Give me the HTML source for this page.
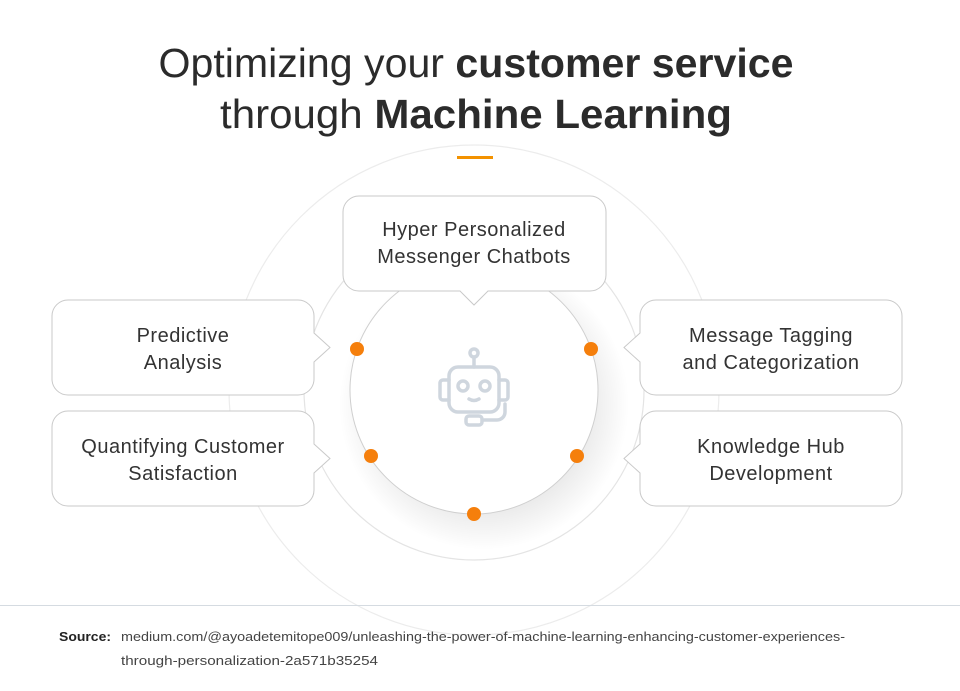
<!DOCTYPE html>
<html><head><meta charset="utf-8"><style>
body{margin:0;background:#fff;}
svg{display:block;font-family:"Liberation Sans",sans-serif;}
</style></head><body>
<svg width="960" height="691" viewBox="0 0 960 691" xmlns="http://www.w3.org/2000/svg">
<defs>
<radialGradient id="sh" cx="0.5" cy="0.5" r="0.5">
<stop offset="0.7" stop-color="#000" stop-opacity="0.09"/>
<stop offset="1" stop-color="#000" stop-opacity="0"/>
</radialGradient>
</defs>
<text x="476" y="77" text-anchor="middle" font-size="41" fill="#2b2b2b" textLength="635" lengthAdjust="spacingAndGlyphs">Optimizing your <tspan font-weight="bold">customer service</tspan></text>
<text x="476" y="128" text-anchor="middle" font-size="41" fill="#2b2b2b" textLength="512" lengthAdjust="spacingAndGlyphs">through <tspan font-weight="bold">Machine Learning</tspan></text>
<rect x="457" y="156" width="36" height="3" fill="#f39200"/>
<circle cx="474" cy="390" r="245" fill="none" stroke="#ececec" stroke-width="1.2"/>
<circle cx="474" cy="390" r="170" fill="none" stroke="#e4e4e4" stroke-width="1.2"/>
<circle cx="484" cy="405" r="145" fill="url(#sh)"/>
<circle cx="474" cy="390" r="124" fill="#fff" stroke="#cfcfcf" stroke-width="1"/>
<g fill="none" stroke="#cfd6de" stroke-width="3.5" stroke-linecap="round" stroke-linejoin="round">
<circle cx="474" cy="353" r="4"/>
<line x1="474" y1="357" x2="474" y2="367"/>
<rect x="449" y="367" width="50" height="45" rx="9"/>
<path d="M449 380 h-6 a3 3 0 0 0 -3 3 v14 a3 3 0 0 0 3 3 h6"/>
<path d="M499 380 h6 a3 3 0 0 1 3 3 v14 a3 3 0 0 1 -3 3 h-6"/>
<circle cx="463" cy="386" r="5"/>
<circle cx="485" cy="386" r="5"/>
<path d="M469 399 q5 3 10 0"/>
<path d="M505 404 v8 a8 8 0 0 1 -8 8 h-13"/>
<rect x="466" y="416" width="16" height="9" rx="3"/>
</g>
<g fill="#fff" stroke="#c9c9c9" stroke-width="1">
<path d="M359 196 h231 a16 16 0 0 1 16 16 v63 a16 16 0 0 1 -16 16 h-102 l-14 14 l-14 -14 h-101 a16 16 0 0 1 -16 -16 v-63 a16 16 0 0 1 16 -16z"/>
<path d="M68 300 h230 a16 16 0 0 1 16 16 v17 l16 14.5 l-16 14.5 v17 a16 16 0 0 1 -16 16 h-230 a16 16 0 0 1 -16 -16 v-63 a16 16 0 0 1 16 -16z"/>
<path d="M68 411 h230 a16 16 0 0 1 16 16 v17 l16 14.5 l-16 14.5 v17 a16 16 0 0 1 -16 16 h-230 a16 16 0 0 1 -16 -16 v-63 a16 16 0 0 1 16 -16z"/>
<path d="M656 300 h230 a16 16 0 0 1 16 16 v63 a16 16 0 0 1 -16 16 h-230 a16 16 0 0 1 -16 -16 v-17 l-16 -14.5 l16 -14.5 v-17 a16 16 0 0 1 16 -16z"/>
<path d="M656 411 h230 a16 16 0 0 1 16 16 v63 a16 16 0 0 1 -16 16 h-230 a16 16 0 0 1 -16 -16 v-17 l-16 -14.5 l16 -14.5 v-17 a16 16 0 0 1 16 -16z"/>
</g>
<g font-size="20" fill="#333" text-anchor="middle" letter-spacing="0.5">
<text x="474" y="236">Hyper Personalized</text>
<text x="474" y="263">Messenger Chatbots</text>
<text x="183" y="342">Predictive</text>
<text x="183" y="369">Analysis</text>
<text x="183" y="453">Quantifying Customer</text>
<text x="183" y="480">Satisfaction</text>
<text x="771" y="342">Message Tagging</text>
<text x="771" y="369">and Categorization</text>
<text x="771" y="453">Knowledge Hub</text>
<text x="771" y="480">Development</text>
</g>
<g fill="#f57f0c">
<circle cx="357" cy="349" r="7"/>
<circle cx="591" cy="349" r="7"/>
<circle cx="371" cy="456" r="7"/>
<circle cx="577" cy="456" r="7"/>
<circle cx="474" cy="514" r="7"/>
</g>
<rect x="0" y="605" width="960" height="1" fill="#d5dbe1"/>
<text x="59" y="641" font-size="13" font-weight="bold" fill="#222" textLength="52" lengthAdjust="spacingAndGlyphs">Source:</text>
<text x="121" y="641" font-size="13" fill="#444" textLength="724" lengthAdjust="spacingAndGlyphs">medium.com/@ayoadetemitope009/unleashing-the-power-of-machine-learning-enhancing-customer-experiences-</text>
<text x="121" y="665" font-size="13" fill="#444" textLength="257" lengthAdjust="spacingAndGlyphs">through-personalization-2a571b35254</text>
</svg>
</body></html>
